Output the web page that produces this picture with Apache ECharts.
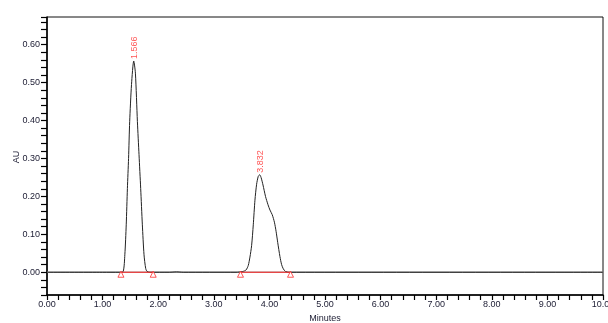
<!DOCTYPE html>
<html>
<head>
<meta charset="utf-8">
<script src="https://cdn.jsdelivr.net/npm/echarts@6/dist/echarts.min.js"></script>
<style>
  html, body { margin: 0; padding: 0; background: #fff; }
  #chart { width: 608px; height: 323px; }
</style>
</head>
<body>
<div id="chart"></div>
<script>
// detector trace (minutes, AU)
const traceTimes = [0, 1.00, 1.30, 1.37, 1.40, 1.425, 1.446, 1.467, 1.487, 1.52, 1.56, 1.59, 1.626, 1.655, 1.685, 1.715, 1.745, 1.775, 1.80, 1.85,
  2.20, 2.33, 2.45, 3.40, 3.52, 3.58, 3.62, 3.65, 3.68, 3.71, 3.74, 3.77, 3.80, 3.825, 3.85, 3.885, 3.93, 3.975, 4.01, 4.05, 4.09,
  4.12, 4.15, 4.19, 4.22, 4.25, 4.29, 4.35, 10.0];
const traceValues = [0, 0, 0, 0.002, 0.046, 0.125, 0.221, 0.300, 0.397, 0.495, 0.557, 0.525, 0.397, 0.310, 0.221, 0.125, 0.046, 0.010, 0.002, 0,
  0, 0.001, 0, 0, 0.002, 0.006, 0.018, 0.040, 0.070, 0.125, 0.190, 0.232, 0.253, 0.257, 0.250, 0.230, 0.200, 0.178, 0.164, 0.152, 0.132,
  0.108, 0.078, 0.041, 0.020, 0.009, 0.002, 0, 0];

// peaks: retention time labels, apex heights
const peakTimes = [1.566, 3.832];
const peakHeights = [0.557, 0.257];

// integration start / end marks
const intStart = [1.33, 3.48];
const intEnd = [1.91, 4.38];

const xTicks = { min: 0, max: 10, step: 1 };
const yTicks = { min: -0.06, max: 0.673, step: 0.02 };

const chart = echarts.init(document.getElementById('chart'), null, { renderer: 'canvas' });

const trace = traceTimes.map((t, i) => [t, traceValues[i]]);
const marks = [];
intStart.forEach((s, i) => { marks.push([s, 0]); marks.push([intEnd[i], 0]); });

const labelFont = { fontFamily: 'Liberation Sans, Arial, sans-serif', fontSize: 9, color: '#222238' };

// red integration baselines, one per peak
const baseSeries = intStart.map((s, i) => ({
  type: 'line', data: [[s, 0], [intEnd[i], 0]], symbol: 'none', silent: true,
  lineStyle: { color: '#ff2a2a', width: 1.2 }, z: 6
}));

const option = {
  animation: false,
  grid: {
    left: 47, right: 5, top: 17, bottom: 28,
    outerBoundsMode: 'none',
    show: true, borderColor: '#111', borderWidth: 1
  },
  // y axis title, placed by hand
  graphic: [{
    type: 'text', x: 17, y: 157, rotation: Math.PI / 2,
    style: {
      text: 'AU', align: 'center', verticalAlign: 'middle',
      font: '9px "Liberation Sans", Arial, sans-serif', fill: '#222238'
    }
  }],
  xAxis: {
    type: 'value',
    min: xTicks.min, max: xTicks.max, interval: xTicks.step,
    name: 'Minutes', nameLocation: 'middle', nameGap: 19,
    nameTextStyle: labelFont,
    axisLine: { onZero: false, lineStyle: { color: '#000', width: 1.5 } },
    axisTick: { show: true, inside: false, length: 5, lineStyle: { color: '#000', width: 1.2 } },
    minorTick: { show: true, splitNumber: 5, length: 5, lineStyle: { color: '#000', width: 1.2 } },
    axisLabel: Object.assign({ margin: 5, formatter: v => v.toFixed(2) }, labelFont),
    splitLine: { show: false }
  },
  yAxis: {
    type: 'value',
    min: yTicks.min, max: yTicks.max, interval: yTicks.step,
    axisLine: { onZero: false, lineStyle: { color: '#000', width: 1.5 } },
    axisTick: { show: true, inside: false, length: 6, lineStyle: { color: '#000', width: 1.2 } },
    axisLabel: Object.assign({
      margin: 7,
      formatter: v => (Math.abs(v * 10 - Math.round(v * 10)) < 1e-6 && v > -0.001) ? v.toFixed(2) : ''
    }, labelFont),
    splitLine: { show: false }
  },
  series: [
    {
      // zero line
      type: 'line', data: [[0, 0], [10, 0]], symbol: 'none', silent: true,
      lineStyle: { color: '#9a9a9a', width: 1.5 }, z: 1
    },
    {
      type: 'line', data: trace, symbol: 'none', smooth: 0.25,
      lineStyle: { color: '#222', width: 1 }, z: 3
    },
    ...baseSeries,
    {
      type: 'scatter', data: marks, symbol: 'triangle', symbolSize: 6, symbolOffset: [0, 2],
      itemStyle: { color: '#fff', borderColor: '#ff2a2a', borderWidth: 1 }, z: 7
    },
    {
      type: 'scatter', data: peakTimes.map((t, i) => [t, peakHeights[i]]), symbolSize: 0,
      label: {
        show: true, position: 'top', distance: 2, rotate: 90, align: 'left', verticalAlign: 'middle',
        formatter: p => p.value[0].toFixed(3),
        fontFamily: 'Liberation Sans, Arial, sans-serif', fontSize: 9, color: '#ff2a2a'
      }, z: 8
    }
  ]
};

chart.setOption(option);
</script>
</body>
</html>
